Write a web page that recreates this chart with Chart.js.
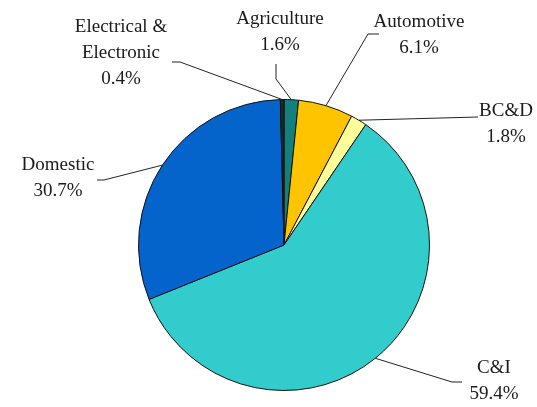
<!DOCTYPE html>
<html>
<head>
<meta charset="utf-8">
<script src="https://cdn.jsdelivr.net/npm/chart.js@4/dist/chart.umd.min.js"></script>
<style>
  html, body { margin: 0; padding: 0; background: #ffffff; }
  #wrap { width: 537px; height: 407px; position: relative; }
  #probe { position: absolute; left: -999px; top: 0; font: 19px "Liberation Serif"; }
</style>
</head>
<body>
<span id="probe">Electrical &amp; 0.4%</span>
<div id="wrap"><canvas id="c" width="537" height="407"></canvas></div>
<script>
const categories = ['Agriculture', 'Automotive', 'BC&D', 'C&I', 'Domestic', 'Electrical & Electronic'];
const labelLines = [['Agriculture'], ['Automotive'], ['BC&D'], ['C&I'], ['Domestic'], ['Electrical &', 'Electronic']];
const shares = [1.6, 6.1, 1.8, 59.4, 30.7, 0.4];
const colors = ['#11807f', '#ffc400', '#ffff99', '#33cccc', '#0563cc', '#0b2f2f'];

// label placement: text centre x, first line centre y, leader polyline (from label towards slice)
const labelLayout = [
  { x: 280, y: 19, pts: [[276, 64], [276, 79]] },
  { x: 419, y: 22, pts: [[379, 34], [368, 34]] },
  { x: 506, y: 111, pts: [[478, 117]] },
  { x: 494, y: 368, pts: [[462, 382], [452, 382]] },
  { x: 58, y: 165, pts: [[97, 180], [104, 180]] },
  { x: 121, y: 27, pts: [[172, 62], [180, 62]] }
];

const FONT = '19px "Liberation Serif"';

const leaderPlugin = {
  id: 'leaders',
  afterDatasetsDraw(chart) {
    const ctx = chart.ctx;
    const meta = chart.getDatasetMeta(0);
    ctx.save();
    ctx.strokeStyle = '#222';
    ctx.lineWidth = 1;
    ctx.font = FONT;
    ctx.fillStyle = '#1a1a1a';
    ctx.textAlign = 'center';
    ctx.textBaseline = 'middle';
    meta.data.forEach((arc, i) => {
      const p = arc.getProps(['x', 'y', 'startAngle', 'endAngle', 'outerRadius'], true);
      const mid = (p.startAngle + p.endAngle) / 2;
      const ex = p.x + Math.cos(mid) * p.outerRadius;
      const ey = p.y + Math.sin(mid) * p.outerRadius;
      const L = labelLayout[i];
      ctx.beginPath();
      ctx.moveTo(ex, ey);
      for (let k = L.pts.length - 1; k >= 0; k--) ctx.lineTo(L.pts[k][0], L.pts[k][1]);
      ctx.stroke();
      const lines = labelLines[i].concat([shares[i].toFixed(1) + '%']);
      lines.forEach((t, j) => ctx.fillText(t, L.x, L.y + j * 26));
    });
    ctx.restore();
  }
};

function draw() {
  new Chart(document.getElementById('c'), {
    type: 'pie',
    data: {
      labels: categories,
      datasets: [{
        data: shares,
        backgroundColor: colors,
        borderColor: '#111',
        borderWidth: 1
      }]
    },
    options: {
      responsive: false,
      animation: false,
      layout: { padding: { left: 138, right: 107, top: 98, bottom: 15 } },
      plugins: { legend: { display: false }, tooltip: { enabled: false } }
    },
    plugins: [leaderPlugin]
  });
}
if (document.fonts && document.fonts.load) {
  document.fonts.load(FONT).then(draw, draw);
} else {
  draw();
}
</script>
</body>
</html>
